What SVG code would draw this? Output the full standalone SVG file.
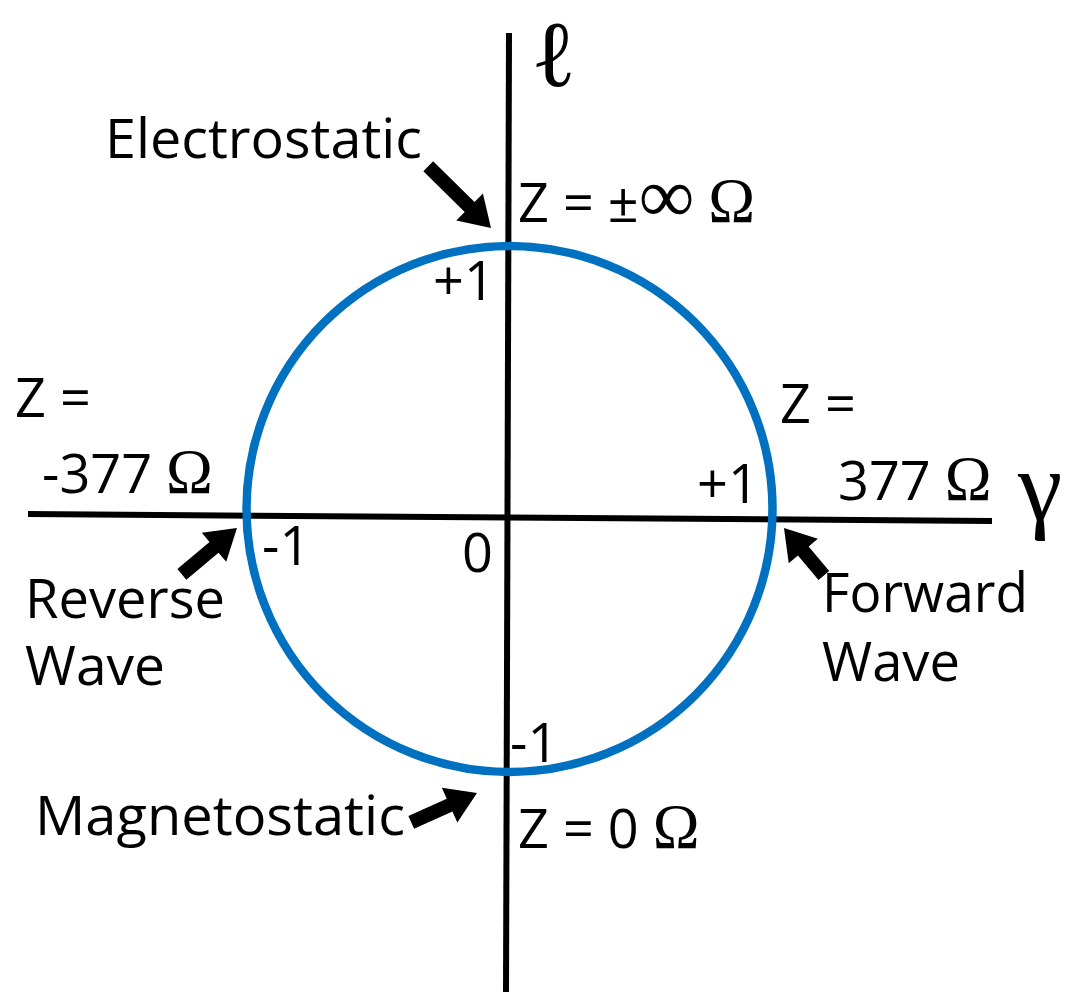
<svg xmlns="http://www.w3.org/2000/svg" width="1074" height="992" viewBox="0 0 1074 992">
<style>
.t{font-family:"Open Sans","Liberation Sans",sans-serif;font-size:54px;fill:#000}
.s{font-family:"Liberation Serif","DejaVu Serif",serif}
.om{font-family:"Liberation Serif","DejaVu Serif",serif;font-size:63px}
.ax{stroke:#000;stroke-width:6;fill:none}
.arr{fill:#000}
</style>
<rect width="1074" height="992" fill="#fff"/>
<g id="axes">
<line class="ax" x1="509" y1="33" x2="506" y2="992"/>
<line class="ax" x1="28" y1="514" x2="992" y2="521"/>
</g>
<g id="circle">
<circle cx="509.5" cy="509" r="263" fill="none" stroke="#0070c0" stroke-width="8.5"/>
</g>
<g id="connectors">
<path class="arr" transform="translate(491,228) rotate(44.5)" d="M-88,-7 L-30,-7 L-30,-19 L0,0 L-30,19 L-30,7 L-88,7 Z"/>
<path class="arr" transform="translate(237,528) rotate(-40)" d="M-72,-7 L-30,-7 L-30,-19 L0,0 L-30,19 L-30,7 L-72,7 Z"/>
<path class="arr" transform="translate(784,528) rotate(230)" d="M-62,-7 L-30,-7 L-30,-19 L0,0 L-30,19 L-30,7 L-62,7 Z"/>
<path class="arr" transform="translate(477,793) rotate(-24)" d="M-72,-7 L-30,-7 L-30,-19 L0,0 L-30,19 L-30,7 L-72,7 Z"/>
</g>
<g id="labels">
<text class="s" x="531" y="86" font-size="94">ℓ</text>
<text class="s" x="1018" y="520" font-size="100">γ</text>
<text class="t" x="105" y="158" textLength="317" lengthAdjust="spacingAndGlyphs">Electrostatic</text>
<text class="t" x="518" y="222">Z = ±<tspan class="s" font-size="78">∞</tspan> <tspan class="om">Ω</tspan></text>
<text class="t" x="433" y="300">+1</text>
<text class="t" x="15" y="417">Z =</text>
<text class="t" x="42" y="493">-377 <tspan class="om">Ω</tspan></text>
<text class="t" x="262" y="565">-1</text>
<text class="t" x="462" y="572">0</text>
<text class="t" x="25" y="618" textLength="200" lengthAdjust="spacingAndGlyphs">Reverse</text>
<text class="t" x="25" y="685" textLength="140" lengthAdjust="spacingAndGlyphs">Wave</text>
<text class="t" x="780" y="423">Z =</text>
<text class="t" x="697" y="503">+1</text>
<text class="t" x="838" y="500">377 <tspan class="om">Ω</tspan></text>
<text class="t" x="822" y="612" textLength="206" lengthAdjust="spacingAndGlyphs">Forward</text>
<text class="t" x="822" y="681" textLength="138" lengthAdjust="spacingAndGlyphs">Wave</text>
<text class="t" x="510" y="762">-1</text>
<text class="t" x="35" y="835" textLength="370" lengthAdjust="spacingAndGlyphs">Magnetostatic</text>
<text class="t" x="518" y="848">Z = 0 <tspan class="om">Ω</tspan></text>
</g>
</svg>
